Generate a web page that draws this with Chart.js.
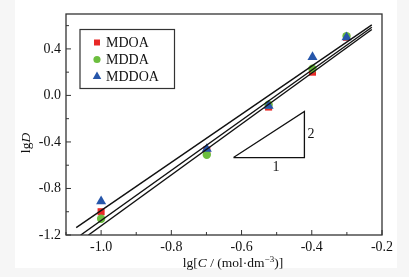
<!DOCTYPE html>
<html>
<head>
<meta charset="utf-8">
<script src="https://cdn.jsdelivr.net/npm/chart.js@4/dist/chart.umd.min.js"></script>
<style>
    html, body { margin: 0; padding: 0; background: #f6f6f6; }
    #wrap { position: relative; width: 409px; height: 277px; }
    #panel { position: absolute; left: 15px; top: 0; width: 382px; height: 268px; background: #fff; }
    canvas { position: absolute; left: 0; top: 0; }
</style>
</head>
<body>
<div id="wrap">
    <div id="panel"></div>
    <canvas id="chart" width="409" height="277"></canvas>
</div>
<script>
// lg C values (C = 0.1 ... 0.5 mol/dm3)
const lgC = [-1.0, -0.699, -0.523, -0.398, -0.301];
const seriesNames = ['MDOA', 'MDDA', 'MDDOA'];
const mdoa  = [-1.00, -0.47, -0.10, 0.20, 0.50];
const mdda  = [-1.06, -0.51, -0.08, 0.23, 0.51];
const mddoa = [-0.91, -0.46, -0.09, 0.33, 0.50];

// fitted lines, [x0, x1] and [y0, y1]
const fitX = [[-1.071, -0.229], [-1.058, -0.229], [-1.036, -0.229]];
const fitY = [[-1.136, 0.606], [-1.2, 0.586], [-1.2, 0.567]];

// slope triangle
const triX = [-0.623, -0.421, -0.421, -0.623];
const triY = [-0.534, -0.534, -0.137, -0.534];

const xTicks = [-1.0, -0.8, -0.6, -0.4, -0.2];
const yTicks = [-1.2, -0.8, -0.4, 0.0, 0.4];
const xMinor = [-1.1, -0.9, -0.7, -0.5, -0.3];
const yMinor = [-1.0, -0.6, -0.2, 0.2, 0.6];

const colors = ['rgb(232,40,38)', 'rgb(108,190,62)', 'rgb(38,86,170)'];
const shapes = ['rect', 'circle', 'triangle'];
const radii = [5, 4.2, 5.8];
const serif = "'Liberation Serif', 'Times New Roman', serif";

const pts = (xs, ys) => xs.map((x, i) => ({ x: x, y: ys[i] }));

const datasets = [];
fitX.forEach((xs, i) => {
    datasets.push({
        type: 'line', data: pts(xs, fitY[i]), borderColor: '#111', borderWidth: 1.4,
        pointRadius: 0, fill: false, order: 0
    });
});
datasets.push({
    type: 'line', data: pts(triX, triY), borderColor: '#111', borderWidth: 1.3,
    pointRadius: 0, fill: false, order: 0
});
[mdoa, mdda, mddoa].forEach((ys, i) => {
    datasets.push({
        type: 'scatter', label: seriesNames[i], data: pts(lgC, ys),
        pointStyle: shapes[i], pointRadius: radii[i], pointHoverRadius: radii[i],
        backgroundColor: colors[i], borderColor: colors[i], borderWidth: 0,
        order: 3 - i
    });
});

function marker(ctx, shape, x, y, r, color) {
    ctx.fillStyle = color;
    ctx.beginPath();
    if (shape === 'rect') {
        const s = r * Math.SQRT1_2;
        ctx.rect(x - s, y - s, 2 * s, 2 * s);
    } else if (shape === 'circle') {
        ctx.arc(x, y, r, 0, Math.PI * 2);
    } else {
        ctx.moveTo(x, y - r);
        ctx.lineTo(x + r * 0.866, y + r * 0.5);
        ctx.lineTo(x - r * 0.866, y + r * 0.5);
        ctx.closePath();
    }
    ctx.fill();
}

const decorations = {
    id: 'decorations',
    afterDraw(chart) {
        const ctx = chart.ctx;
        const a = chart.chartArea;
        const xs = chart.scales.x, ys = chart.scales.y;
        ctx.save();

        // frame
        ctx.strokeStyle = '#333';
        ctx.lineWidth = 1.3;
        ctx.strokeRect(a.left, a.top, a.right - a.left, a.bottom - a.top);

        // inward ticks
        ctx.lineWidth = 1;
        ctx.beginPath();
        xTicks.forEach(v => { const p = xs.getPixelForValue(v); ctx.moveTo(p, a.bottom); ctx.lineTo(p, a.bottom - 5); });
        xMinor.forEach(v => { const p = xs.getPixelForValue(v); ctx.moveTo(p, a.bottom); ctx.lineTo(p, a.bottom - 3); });
        yTicks.forEach(v => { const p = ys.getPixelForValue(v); ctx.moveTo(a.left, p); ctx.lineTo(a.left + 5, p); });
        yMinor.forEach(v => { const p = ys.getPixelForValue(v); ctx.moveTo(a.left, p); ctx.lineTo(a.left + 3, p); });
        ctx.stroke();

        // slope labels
        ctx.fillStyle = '#111';
        ctx.font = '14px ' + serif;
        ctx.textAlign = 'center';
        ctx.textBaseline = 'middle';
        ctx.fillText('2', xs.getPixelForValue(-0.402), ys.getPixelForValue(-0.337));
        ctx.fillText('1', xs.getPixelForValue(-0.502), ys.getPixelForValue(-0.62));

        // legend
        ctx.strokeStyle = '#333';
        ctx.lineWidth = 1.2;
        ctx.strokeRect(80, 29.5, 94.5, 59);
        ctx.font = '14px ' + serif;
        ctx.textAlign = 'left';
        seriesNames.forEach((name, i) => {
            const y = 42.5 + i * 17;
            marker(ctx, shapes[i], 97, y, radii[i] * 0.85, colors[i]);
            ctx.fillStyle = '#111';
            ctx.fillText(name, 106, y + 1);
        });

        // x axis title: lg[C / (mol·dm−3)]
        const parts = [
            ['lg[', '', 13.5, 0], ['C', 'italic ', 13.5, 0], [' / (mol·dm', '', 13.5, 0],
            ['−3', '', 9, -5], [')]', '', 13.5, 0]
        ];
        let w = 0;
        parts.forEach(p => { ctx.font = p[1] + p[2] + 'px ' + serif; w += ctx.measureText(p[0]).width; });
        let x = 233 - w / 2;
        ctx.textBaseline = 'alphabetic';
        ctx.fillStyle = '#111';
        parts.forEach(p => {
            ctx.font = p[1] + p[2] + 'px ' + serif;
            ctx.fillText(p[0], x, 267 + p[3]);
            x += ctx.measureText(p[0]).width;
        });

        // y axis title: lgD
        ctx.translate(30, 143);
        ctx.rotate(-Math.PI / 2);
        ctx.font = '13.5px ' + serif;
        const w1 = ctx.measureText('lg').width;
        ctx.font = 'italic 13.5px ' + serif;
        const w2 = ctx.measureText('D').width;
        ctx.font = '13.5px ' + serif;
        ctx.fillText('lg', -(w1 + w2) / 2, 0);
        ctx.font = 'italic 13.5px ' + serif;
        ctx.fillText('D', -(w1 + w2) / 2 + w1, 0);
        ctx.restore();
    }
};

new Chart(document.getElementById('chart').getContext('2d'), {
    type: 'scatter',
    data: { datasets: datasets },
    options: {
        responsive: false,
        animation: false,
        layout: { padding: { left: 0, right: 27, top: 14, bottom: 0 } },
        plugins: { legend: { display: false }, tooltip: { enabled: false } },
        scales: {
            x: {
                type: 'linear', min: -1.1, max: -0.2,
                afterFit: s => { s.height = 42; },
                afterBuildTicks: s => { s.ticks = xTicks.map(v => ({ value: v })); },
                grid: { display: false, drawTicks: false }, border: { display: false },
                ticks: { font: { family: serif, size: 14 }, color: '#111', padding: 4,
                    callback: v => v.toFixed(1) }
            },
            y: {
                type: 'linear', min: -1.2, max: 0.7,
                afterFit: s => { s.width = 66; },
                afterBuildTicks: s => { s.ticks = yTicks.map(v => ({ value: v })); },
                grid: { display: false, drawTicks: false }, border: { display: false },
                ticks: { font: { family: serif, size: 14 }, color: '#111', padding: 5,
                    callback: v => v.toFixed(1) }
            }
        }
    },
    plugins: [decorations]
});
</script>
</body>
</html>
